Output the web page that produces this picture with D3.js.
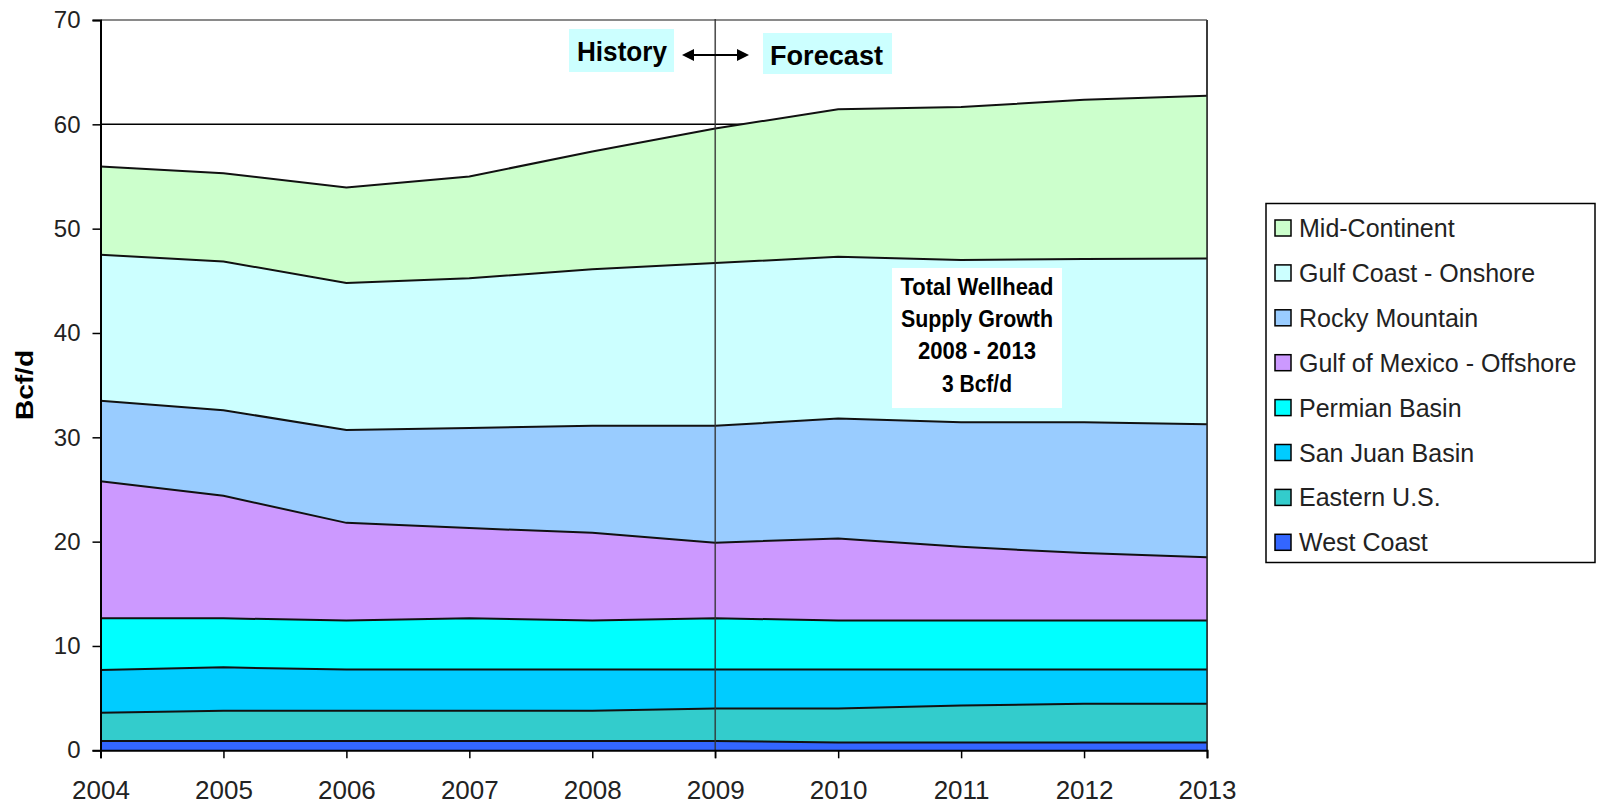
<!DOCTYPE html>
<html>
<head>
<meta charset="utf-8">
<script src="https://d3js.org/d3.v7.min.js"></script>
<style>
  html, body { margin: 0; padding: 0; background: #ffffff; }
  svg { display: block; font-family: "Liberation Sans", Arial, sans-serif; }
</style>
</head>
<body>
<svg id="chart" width="1605" height="805"></svg>
<script>
// ---- Data (Bcf/d) ----
const years = [2004, 2005, 2006, 2007, 2008, 2009, 2010, 2011, 2012, 2013];
const yTicks = [0, 10, 20, 30, 40, 50, 60, 70];

// series listed bottom to top
const westCoast      = [0.90, 0.90, 0.90, 0.90, 0.90, 0.90, 0.75, 0.75, 0.75, 0.75];
const easternUS      = [2.70, 2.90, 2.90, 2.90, 2.90, 3.10, 3.25, 3.55, 3.70, 3.70];
const sanJuanBasin   = [4.10, 4.15, 3.95, 3.95, 3.95, 3.75, 3.75, 3.45, 3.30, 3.30];
const permianBasin   = [4.95, 4.70, 4.70, 4.90, 4.70, 4.90, 4.70, 4.70, 4.70, 4.70];
const gulfOfMexico   = [13.15, 11.75, 9.35, 8.65, 8.40, 7.25, 7.85, 7.05, 6.45, 6.05];
const rockyMountain  = [7.70, 8.20, 8.90, 9.60, 10.25, 11.20, 11.50, 11.95, 12.55, 12.75];
const gulfCoastOn    = [14.00, 14.25, 14.10, 14.35, 15.00, 15.60, 15.50, 15.55, 15.65, 15.90];
const midContinent   = [8.45, 8.45, 9.15, 9.75, 11.30, 12.90, 14.15, 14.65, 15.25, 15.60];

const seriesNames = ["West Coast", "Eastern U.S.", "San Juan Basin", "Permian Basin",
  "Gulf of Mexico - Offshore", "Rocky Mountain", "Gulf Coast - Onshore", "Mid-Continent"];
const seriesValues = [westCoast, easternUS, sanJuanBasin, permianBasin,
  gulfOfMexico, rockyMountain, gulfCoastOn, midContinent];
const seriesColors = ["#3366FF", "#33CCCC", "#00CCFF", "#00FFFF",
  "#CC99FF", "#99CCFF", "#CCFFFF", "#CCFFCC"];

const noteLines = ["Total Wellhead", "Supply Growth", "2008 - 2013", "3 Bcf/d"];
const noteWidths = [153, 152, 118, 70];

// ---- Layout ----
const svg = d3.select("#chart");
const plot = { left: 100.5, right: 1207, top: 20, bottom: 750.3 };

const x = d3.scaleLinear().domain([2004, 2013]).range([plot.left, plot.right]);
const y = d3.scaleLinear().domain([0, 70]).range([plot.bottom, plot.top]);

const table = years.map((yr, i) => {
  const row = { year: yr };
  seriesNames.forEach((n, k) => row[n] = seriesValues[k][i]);
  return row;
});
const stacked = d3.stack().keys(seriesNames)(table);

// gridlines
svg.append("g").selectAll("line").data(yTicks.filter(t => t > 0 && t < 70)).join("line")
  .attr("x1", plot.left).attr("x2", plot.right)
  .attr("y1", d => y(d)).attr("y2", d => y(d))
  .attr("stroke", "#000").attr("stroke-width", 1.5);

// plot frame top/right
svg.append("line").attr("x1", plot.left).attr("x2", plot.right)
  .attr("y1", plot.top).attr("y2", plot.top).attr("stroke", "#8a8a8a").attr("stroke-width", 2);
svg.append("line").attr("x1", plot.right).attr("x2", plot.right)
  .attr("y1", plot.top).attr("y2", plot.bottom).attr("stroke", "#8a8a8a").attr("stroke-width", 2);

// areas
const area = d3.area().x(d => x(d.data.year)).y0(d => y(d[0])).y1(d => y(d[1]));
const topLine = d3.line().x(d => x(d.data.year)).y(d => y(d[1]));

svg.append("g").selectAll("path").data(stacked).join("path")
  .attr("d", area).attr("fill", (d, i) => seriesColors[i]);
svg.append("g").selectAll("path").data(stacked).join("path")
  .attr("d", topLine).attr("fill", "none").attr("stroke", "#111").attr("stroke-width", 2);

// right frame over areas
svg.append("line").attr("x1", plot.right).attr("x2", plot.right)
  .attr("y1", plot.top).attr("y2", plot.bottom).attr("stroke", "#222").attr("stroke-width", 1.5);

// history/forecast divider
svg.append("line").attr("x1", x(2009)).attr("x2", x(2009))
  .attr("y1", plot.top - 1).attr("y2", plot.bottom + 8)
  .attr("stroke", "#333").attr("stroke-opacity", 0.85).attr("stroke-width", 1.6);

// axes
const yAxis = d3.axisLeft(y).tickValues(yTicks).tickSize(8).tickPadding(12).tickFormat(d3.format("d"));
const gy = svg.append("g").attr("transform", `translate(${plot.left},0)`).call(yAxis);
gy.select(".domain").attr("stroke", "#000").attr("stroke-width", 2);
gy.selectAll(".tick line").attr("stroke", "#000").attr("stroke-width", 1.5);
gy.selectAll(".tick text").attr("font-size", 24).attr("fill", "#222")
  .attr("font-family", "'Liberation Sans', Arial, sans-serif");

const xAxis = d3.axisBottom(x).tickValues(years).tickSize(8).tickPadding(22).tickFormat(d3.format("d"));
const gx = svg.append("g").attr("transform", `translate(0,${plot.bottom})`).call(xAxis);
gx.select(".domain").attr("stroke", "#000").attr("stroke-width", 2);
gx.selectAll(".tick line").attr("stroke", "#000").attr("stroke-width", 1.5);
gx.selectAll(".tick text").attr("font-size", 26).attr("fill", "#222")
  .attr("font-family", "'Liberation Sans', Arial, sans-serif");

// y title
svg.append("text").attr("transform", "translate(33,385) rotate(-90)")
  .attr("text-anchor", "middle").attr("font-size", 23).attr("font-weight", "bold")
  .attr("textLength", 70).attr("lengthAdjust", "spacingAndGlyphs")
  .text("Bcf/d");

// History / Forecast labels
svg.append("rect").attr("x", 569).attr("y", 29).attr("width", 105).attr("height", 43).attr("fill", "#CCFFFF");
svg.append("text").attr("x", 577).attr("y", 61).attr("font-size", 27).attr("font-weight", "bold")
  .attr("textLength", 90).attr("lengthAdjust", "spacingAndGlyphs").text("History");
svg.append("rect").attr("x", 763).attr("y", 33).attr("width", 129).attr("height", 41).attr("fill", "#CCFFFF");
svg.append("text").attr("x", 770).attr("y", 65).attr("font-size", 27).attr("font-weight", "bold")
  .attr("textLength", 113).attr("lengthAdjust", "spacingAndGlyphs").text("Forecast");

// double arrow
const ay = 55, ax1 = 682, ax2 = 749;
svg.append("line").attr("x1", ax1 + 8).attr("x2", ax2 - 8).attr("y1", ay).attr("y2", ay)
  .attr("stroke", "#000").attr("stroke-width", 2);
svg.append("path").attr("d", `M${ax1},${ay} L${ax1 + 12},${ay - 6} L${ax1 + 12},${ay + 6} Z`).attr("fill", "#000");
svg.append("path").attr("d", `M${ax2},${ay} L${ax2 - 12},${ay - 6} L${ax2 - 12},${ay + 6} Z`).attr("fill", "#000");

// note box
svg.append("rect").attr("x", 892).attr("y", 268).attr("width", 170).attr("height", 140).attr("fill", "#ffffff");
svg.append("g").selectAll("text").data(noteLines).join("text")
  .attr("x", 977).attr("y", (d, i) => 295 + i * 32.2)
  .attr("text-anchor", "middle").attr("font-size", 24).attr("font-weight", "bold")
  .attr("textLength", (d, i) => noteWidths[i]).attr("lengthAdjust", "spacingAndGlyphs")
  .text(d => d);

// legend
const legend = svg.append("g");
legend.append("rect").attr("x", 1266).attr("y", 203.5).attr("width", 329).attr("height", 359)
  .attr("fill", "#fff").attr("stroke", "#000").attr("stroke-width", 1.5);
const legendOrder = d3.range(seriesNames.length).reverse();
const li = legend.selectAll("g.item").data(legendOrder).join("g").attr("class", "item")
  .attr("transform", (d, i) => `translate(1275,${228 + i * 44.9})`);
li.append("rect").attr("x", 0).attr("y", -8).attr("width", 16).attr("height", 16)
  .attr("fill", d => seriesColors[d]).attr("stroke", "#000").attr("stroke-width", 1.5);
li.append("text").attr("x", 24).attr("y", 9).attr("font-size", 25).attr("fill", "#222")
  .text(d => seriesNames[d]);
</script>
</body>
</html>
